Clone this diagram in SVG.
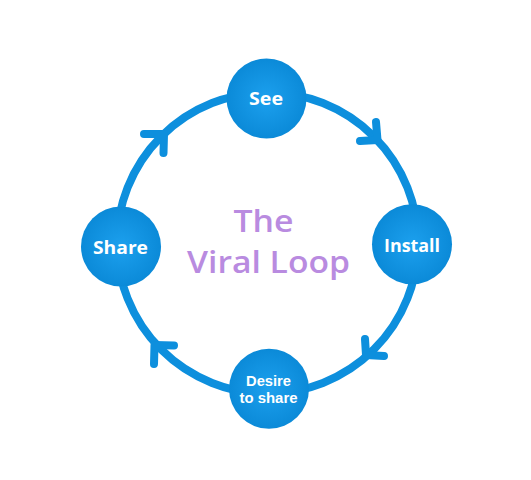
<svg xmlns="http://www.w3.org/2000/svg" width="531" height="480" viewBox="0 0 531 480">
  <defs>
    <radialGradient id="nodeFill" cx="50%" cy="50%" r="50%">
      <stop offset="0" stop-color="#1ca0ee"/>
      <stop offset="1" stop-color="#0b8ad8"/>
    </radialGradient>
  </defs>
  <style>
    .ring { fill: none; stroke: #0d8fdd; stroke-width: 8; }
    .chev { fill: none; stroke: #0d8fdd; stroke-width: 8; stroke-linecap: round; stroke-linejoin: round; }
    .node { fill: url(#nodeFill); }
    .lbl { fill: #ffffff; font-family: "Open Sans", "Liberation Sans", sans-serif; font-weight: 700; text-anchor: middle; }
    .lbl2 { fill: #ffffff; font-family: "Liberation Sans", Arial, sans-serif; font-weight: 700; font-size: 15px; text-anchor: middle; }
    .title { fill: #b98be0; font-family: "Open Sans", "Liberation Sans", sans-serif; font-weight: 600; font-size: 30px; text-anchor: middle; }
  </style>
  <rect width="531" height="480" fill="#ffffff"/>
  <g id="connectors">
    <circle class="ring" cx="267.5" cy="243" r="150.5"/>
    <path class="chev" d="M376,122 L377.5,140 L360,141"/>
    <path class="chev" d="M365,339 L366,355 L384,356"/>
    <path class="chev" d="M174,345.5 L154.5,345 L154,364"/>
    <path class="chev" d="M163.5,153 L164,134 L144,134"/>
  </g>
  <g id="title">
    <text class="title" x="263.5" y="231.5" textLength="60" lengthAdjust="spacingAndGlyphs">The</text>
    <text class="title" x="268.5" y="273.3" textLength="163" lengthAdjust="spacingAndGlyphs">Viral Loop</text>
  </g>
  <g id="node-see">
    <circle class="node" cx="266.5" cy="98.5" r="40"/>
    <text class="lbl" x="266" y="104.5" font-size="17.5" textLength="34" lengthAdjust="spacingAndGlyphs">See</text>
  </g>
  <g id="node-install">
    <circle class="node" cx="412" cy="244.3" r="40"/>
    <text class="lbl" x="412" y="252.3" font-size="17.5" textLength="56" lengthAdjust="spacingAndGlyphs">Install</text>
  </g>
  <g id="node-desire">
    <circle class="node" cx="269" cy="388.8" r="40"/>
    <text class="lbl2" x="268.5" y="385.7" textLength="45" lengthAdjust="spacingAndGlyphs">Desire</text>
    <text class="lbl2" x="268.5" y="403.3" textLength="58" lengthAdjust="spacingAndGlyphs">to share</text>
  </g>
  <g id="node-share">
    <circle class="node" cx="121" cy="246.5" r="40"/>
    <text class="lbl" x="120.5" y="254" font-size="17.5" textLength="55" lengthAdjust="spacingAndGlyphs">Share</text>
  </g>
</svg>
